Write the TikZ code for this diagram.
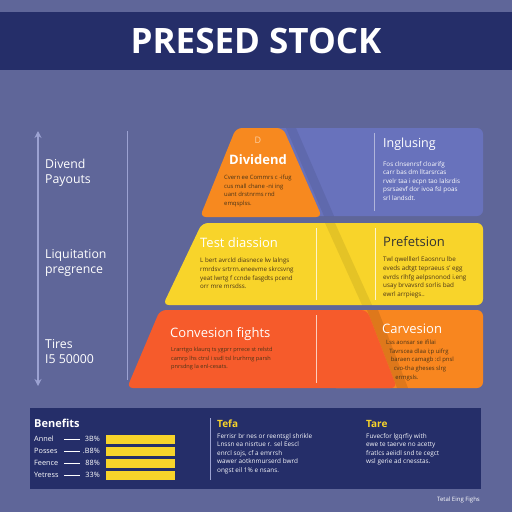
\documentclass[tikz,border=0pt]{standalone}
\usepackage{fontspec}
\setmainfont{Open Sans}
\usetikzlibrary{arrows.meta}
\definecolor{bgc}{HTML}{5F6699}
\definecolor{navy}{HTML}{252E69}
\definecolor{panelblue}{HTML}{6872BC}
\definecolor{ortop}{HTML}{F7891F}
\definecolor{yel}{HTML}{F8D42A}
\definecolor{redor}{HTML}{F65B2B}
\definecolor{orbot}{HTML}{F8861F}
\definecolor{lav}{HTML}{9CA2D2}
\definecolor{dtext}{HTML}{4A3418}
\begin{document}
\begin{tikzpicture}[x=1pt,y=-1pt,
  ttl/.style={font=\bfseries\fontsize{13}{15}\selectfont,anchor=west,inner sep=0},
  body/.style={font=\fontsize{#1}{8.6}\selectfont,anchor=north west,inner sep=0,align=left},
  body/.default=6.2,
  side/.style={font=\fontsize{12.3}{15}\selectfont,anchor=west,inner sep=0,align=left,text=white},
  vline/.style={draw=#1,line width=0.8pt},
  bar/.style={fill=yel,draw=none}]
\useasboundingbox (0,0) rectangle (512,512);
\fill[bgc] (0,0) rectangle (512,512);
% title
\fill[navy] (0,12) rectangle (512,70);
\node[font=\bfseries\fontsize{35}{38}\selectfont,text=white] (title) at (256,41) {PRESED STOCK};
% left axis
\coordinate (atop) at (38,131);
\coordinate (abot) at (38,386);
\draw[lav,line width=1.2pt,{Stealth[length=7pt,width=7pt]}-{Stealth[length=7pt,width=7pt]}] (atop) -- (abot);
\draw[lav,line width=1pt] (127,131) -- (127,380);
\node[side] (l1) at (45,173) {Divend\\Payouts};
\node[side] (l2) at (45,263) {Liquitation\\pregrence};
\node[side] (l3) at (45,352) {Tires\\I5 50000};
% tier 1
\fill[panelblue,rounded corners=6] (262,128) rectangle (483,216);
\fill[black,opacity=0.08] (286,128) -- (296,128) -- (334,216) -- (324,216) -- cycle;
\fill[ortop,rounded corners=6] (236,128) -- (283,128) -- (322,217) -- (200,217) -- cycle;
\draw[vline=lav!80!white] (374,133) -- (374,211);
\node[text=ortop!40!white,font=\fontsize{9}{9}\selectfont] (dicon) at (258,140) {D};
\node[ttl,text=white,anchor=center] (t1) at (258,160) {Dividend};
\node[body=5.9,text=dtext] (b1) at (224,175) {Cvern ee Commrs c -ifug\\cus  mall  chane  -ni  ing\\uant  drstnrms  rnd\\emqsplss.};
\node[ttl,text=white,font=\fontsize{12.5}{14}\selectfont] (t2) at (383,144) {Inglusing};
\node[body=6.3,text=white] (b2) at (383,161) {Fos clnsenrsf cloarifg\\carr bas  dm  lltarsrcas\\rvelr taa i ecpn tao lalsrdis\\psrsaevf dor  ivoa  fsl  poas\\srl  landsdt.};
% tier 2
\fill[yel,rounded corners=6] (202,223) -- (483,223) -- (483,305) -- (163,305) -- cycle;
\fill[black,opacity=0.08] (325,223) -- (335,223) -- (372,305) -- (362,305) -- cycle;
\draw[vline=white!75!yel] (316,228) -- (316,300);
\draw[vline=white!75!yel] (375,228) -- (375,300);
\node[ttl,text=white,font=\fontsize{13}{14}\selectfont] (t3) at (200,243) {Test diassion};
\node[body=6.2,text=dtext] (b3) at (200,258) {L bert avrcld  diasnece  lw  lalngs\\rmrdsv  srtrrn.eneevme  skrcsvng\\yeat  lwrtg  f  ccnde  fasgdts  pcend\\orr  mre  mrsdss.};
\node[ttl,text=black!80,font=\fontsize{13}{14}\selectfont] (t4) at (383,242) {Prefetsion};
\node[body=6.3,text=dtext] (b4) at (383,257) {Twl  qwelllerl  Eaosnru  lbe\\eveds  adtgt  tepraeus  s'  egg\\evrds  rlhfg  aelpsnonod  i.eng\\usay  brvavsrd  sorlis  bad\\ewrl  arrpiegs..};
% tier 3
\fill[orbot,rounded corners=6] (330,310) rectangle (483,388);
\fill[black,opacity=0.10] (367,310) -- (378,310) -- (408,388) -- (397,388) -- cycle;
\fill[redor,rounded corners=6] (160,310) -- (367,310) -- (397,388) -- (127,388) -- cycle;
\draw[vline=white!70!redor] (316,315) -- (316,383);
\node[ttl,text=white,font=\fontsize{13}{14}\selectfont] (t5) at (170,334) {Convesion fights};
\node[body=5.6,text=dtext] (b5) at (171,347) {Lrarrtgo  klaurq  ts  ygprr  prrece  st  relstd\\camrp  lhs  ctrsl  i  ssdl  tsl  lrurhrng  parsh\\pnrsdng  la  enl-cesats.};
\node[ttl,text=white,font=\fontsize{13}{14}\selectfont] (t6) at (382,329) {Carvesion};
\node[body=5.9,text=dtext] (b6) at (386,340) {Lss  aonsar  se  ifilai\\\ \ Tavrscea  dlaa  i;p  uifrg\\\ \ \ baraen  camagb  :cl  pnsl\\\ \ \ \ \ cvo-tha  gheses  slrg\\\ \ \ \ \ \ ermgsls.};
% bottom panel
\fill[navy] (30,408) rectangle (481,489);
\node[ttl,text=white,font=\bfseries\fontsize{11}{13}\selectfont] (ben) at (34,423) {Benefits};
\foreach \y/\a/\p [count=\i] in {439/Annel/3B\%,451/Posses/.B8\%,463/Feence/88\%,475/Yetress/33\%}{
  \node[font=\fontsize{7.3}{8}\selectfont,text=white,anchor=west,inner sep=0] (r\i) at (34,\y) {\a};
  \node[font=\fontsize{7.3}{8}\selectfont,text=white,anchor=east,inner sep=0] (p\i) at (100,\y) {\p};
  \draw[white,line width=0.5pt] (64,\y) -- (80,\y);
  \fill[bar] (106,\y-4.5) rectangle (175,\y+4.5);
}
\draw[vline=lav] (210,418) -- (210,480);
\node[ttl,text=yel,font=\bfseries\fontsize{10}{12}\selectfont] (tefa) at (217,424) {Tefa};
\node[body=6.4,text=white!90!lav] (bt) at (217,433) {Ferrisr  br  nes  or  reentsgl  shrikle\\Lnssn  ea  nisrtue  r.  sel  Eescl\\enrcl  sojs,  cf  a  emrrsh\\wawer  aotknmurserd  bwrd\\ongst  eil  1\%  e  nsans.};
\node[ttl,text=yel,font=\bfseries\fontsize{10}{12}\selectfont] (tare) at (366,424) {Tare};
\node[body=6.4,text=white!90!lav] (bta) at (366,433) {Fuvecfor  lgqrfiy  with\\ewe  te  taerve  no  acetty\\fratlcs  aeiidl  snd  te  cegct\\wsl  gerie  ad  cnesstas.};
\node[font=\fontsize{6}{7}\selectfont,text=white,anchor=east,inner sep=0] (foot) at (480,500) {Tetal Eing Fighs};
\end{tikzpicture}
\end{document}
